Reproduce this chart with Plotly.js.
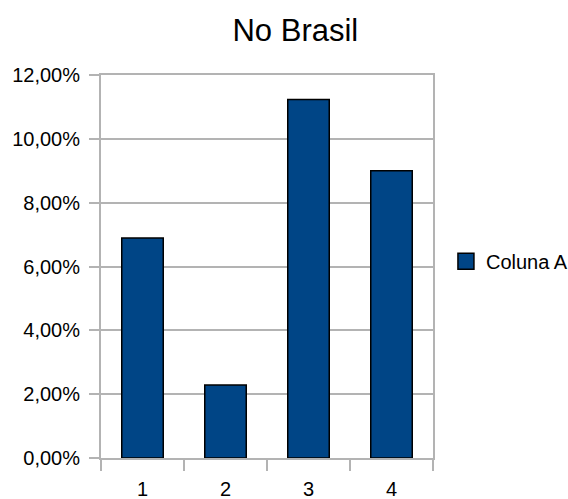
<!DOCTYPE html>
<html>
<head>
<meta charset="utf-8">
<script src="https://cdn.plot.ly/plotly-3.0.1.min.js"></script>
<style>html,body{margin:0;padding:0;background:#fff;}#chart{width:568px;height:499px;}</style>
</head>
<body>
<div id="chart"></div>
<script>
var categories = ["1", "2", "3", "4"];
var colunaA = [0.0689, 0.0229, 0.1123, 0.0900];
var seriesName = "Coluna A";
var chartTitle = "No Brasil";

var barTrace = {
  type: "bar",
  x: categories,
  y: colunaA,
  name: seriesName,
  showlegend: false,
  marker: {color: "#004586", line: {color: "#000000", width: 1.5}},
  hoverinfo: "none"
};
var legendTrace = {
  type: "scatter", mode: "markers",
  x: [null], y: [null],
  name: seriesName, showlegend: true,
  marker: {symbol: "square", size: 16, color: "#004586", line: {color: "#000000", width: 1.5}},
  hoverinfo: "none"
};

var layout = {
  width: 568, height: 499,
  separators: ",.",
  font: {family: "Liberation Sans, Arial, sans-serif", size: 20, color: "#000"},
  paper_bgcolor: "#fff", plot_bgcolor: "#fff",
  margin: {l: 101, r: 135, t: 75, b: 41, pad: 0, autoexpand: false},
  title: {text: chartTitle, font: {size: 31, color: "#000"}, xref: "container", x: 0.52, xanchor: "center", yref: "container", y: 0.94, yanchor: "middle"},
  bargap: 0.5,
  xaxis: {
    type: "category", tickson: "boundaries", ticks: "outside", ticklen: 11, tickcolor: "#b3b3b3", tickwidth: 2,
    showgrid: false, showline: true, linecolor: "#b3b3b3", linewidth: 2, mirror: true,
    tickfont: {size: 20}, zeroline: false, ticklabelstandoff: 12
  },
  yaxis: {
    range: [0, 0.12], dtick: 0.02, tickformat: ".2%", ticks: "outside", ticklen: 10, tickcolor: "#b3b3b3", tickwidth: 2,
    showgrid: true, gridcolor: "#b3b3b3", gridwidth: 2, showline: true, linecolor: "#b3b3b3", linewidth: 2, mirror: true,
    zeroline: false, tickfont: {size: 20}, ticklabelstandoff: 5
  },
  legend: {x: 1.039, xanchor: "left", y: 0.514, yanchor: "middle", font: {size: 20}, itemwidth: 30, bgcolor: "rgba(0,0,0,0)"}
};

Plotly.newPlot("chart", [barTrace, legendTrace], layout, {displayModeBar: false, staticPlot: true});
</script>
</body>
</html>
